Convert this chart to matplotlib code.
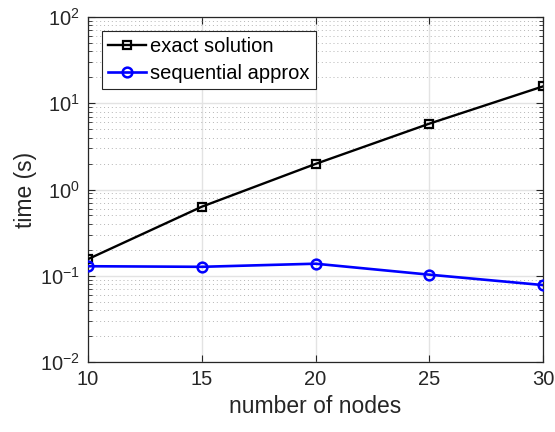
import numpy as np
import matplotlib
matplotlib.use('Agg')
from matplotlib import pyplot as plt
from matplotlib.ticker import LogLocator, NullFormatter

nodes = [10, 15, 20, 25, 30]
exact_time = [0.156, 0.632, 1.98, 5.8, 15.7]
approx_time = [0.129, 0.127, 0.138, 0.103, 0.078]
xtick_vals = [10, 15, 20, 25, 30]

plt.rcParams['font.family'] = ['Liberation Sans', 'DejaVu Sans']
plt.rcParams['mathtext.fontset'] = 'custom'
plt.rcParams['mathtext.rm'] = 'Liberation Sans'

fig = plt.figure(figsize=(5.55, 4.32), dpi=100)
ax = fig.add_axes([0.1586, 0.162, 0.8198, 0.7986])

ax.plot(nodes, exact_time, color='black', lw=1.7, marker='s', ms=5.5,
        mfc='none', mew=1.6, label='exact solution', zorder=3)
ax.plot(nodes, approx_time, color='blue', lw=1.9, marker='o', ms=7,
        mfc='none', mew=1.8, label='sequential approx', zorder=3)

ax.set_yscale('log')
ax.set_ylim(1e-2, 1e2)
ax.set_xlim(10, 30)
ax.set_xticks(xtick_vals)
ax.yaxis.set_major_locator(LogLocator(base=10, numticks=10))
ax.yaxis.set_minor_locator(LogLocator(base=10, subs=np.arange(2, 10), numticks=20))
ax.yaxis.set_minor_formatter(NullFormatter())

ax.grid(True, which='major', color='#e3e3e3', lw=1, ls='-', zorder=0)
ax.grid(True, which='minor', axis='y', color='#b5b5b5', lw=0.7, ls=(0, (1, 3)), zorder=0)
ax.set_axisbelow(True)

ax.tick_params(which='both', direction='in', top=True, right=True,
               labelsize=14.5, colors='#262626', pad=6)
ax.tick_params(which='major', length=5, width=0.8)
ax.tick_params(which='minor', length=3, width=0.6)
for s in ax.spines.values():
    s.set_color('#262626')
    s.set_linewidth(0.9)

ax.set_xlabel('number of nodes', fontsize=16.5, color='#262626', labelpad=4)
ax.set_ylabel('time (s)', fontsize=16.5, color='#262626', labelpad=2)

leg = ax.legend(loc='upper left', fontsize=14.5, frameon=True, fancybox=False,
                edgecolor='#262626', framealpha=1, borderaxespad=0.7,
                handlelength=1.9, handletextpad=0.2, borderpad=0.3,
                labelspacing=0.4)
leg.get_frame().set_linewidth(0.8)

fig.savefig('out.png', dpi=100)
